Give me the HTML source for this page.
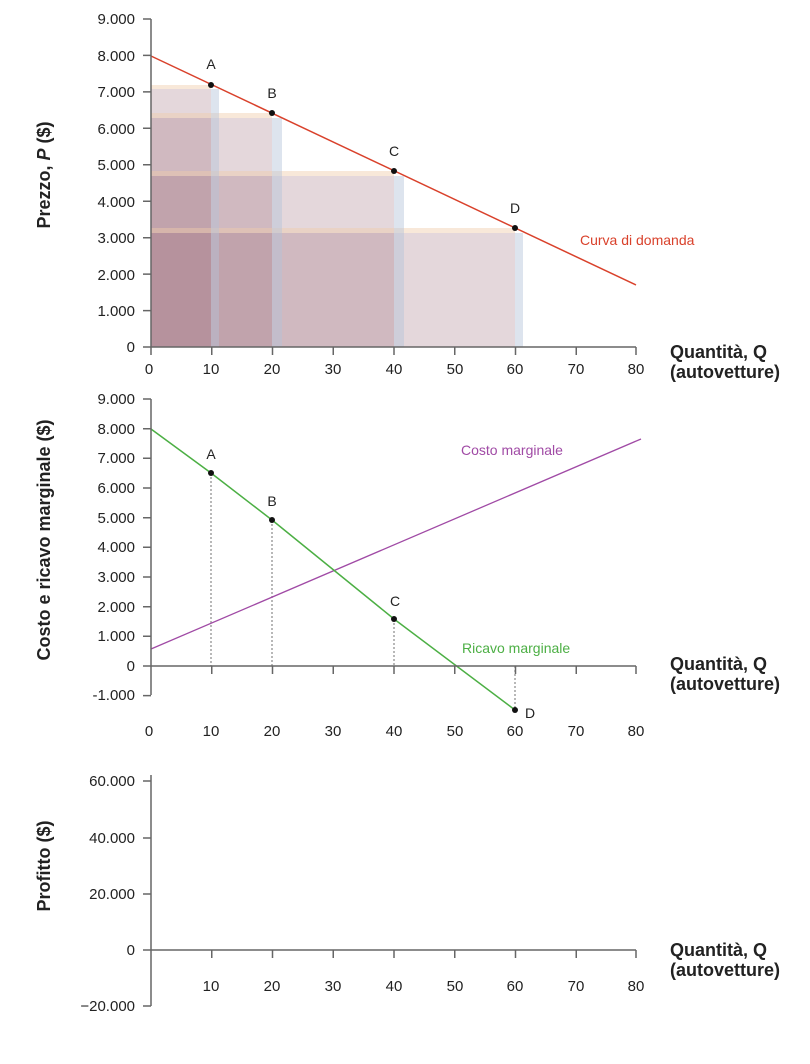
<!DOCTYPE html>
<html><head><meta charset="utf-8"><style>
body{margin:0;background:#fff}
svg text{font-family:"Liberation Sans",sans-serif;fill:#222}
</style></head><body>
<svg width="810" height="1059" viewBox="0 0 810 1059" xmlns="http://www.w3.org/2000/svg">
<g font-size="15">
<!-- TOP CHART -->
<g fill="rgba(150,100,115,0.26)">
<rect x="151" y="89" width="60" height="258"/>
<rect x="151" y="118" width="121" height="229"/>
<rect x="151" y="176" width="243" height="171"/>
<rect x="151" y="233" width="364" height="114"/>
</g>
<g fill="rgba(240,205,170,0.45)">
<rect x="151" y="85" width="60" height="4"/>
<rect x="151" y="113" width="121" height="5"/>
<rect x="151" y="171" width="243" height="5"/>
<rect x="151" y="228" width="364" height="5"/>
</g>
<g fill="rgba(180,195,218,0.45)">
<rect x="211" y="89" width="8" height="258"/>
<rect x="272" y="118" width="10" height="229"/>
<rect x="394" y="176" width="10" height="171"/>
<rect x="515" y="233" width="8" height="114"/>
</g>
<line x1="151" y1="56" x2="636" y2="285" stroke="#d9412b" stroke-width="1.5"/>
<g stroke="#666" stroke-width="1.5" fill="none">
<path d="M151 19 V347 H636"/>
<path d="M143 19H151M143 55.4H151M143 91.9H151M143 128.3H151M143 164.8H151M143 201.2H151M143 237.7H151M143 274.1H151M143 310.6H151M143 347H151"/>
<path d="M151 347v8M211.75 347v8M272.5 347v8M333.25 347v8M394 347v8M454.75 347v8M515.5 347v8M576.25 347v8M636 347v8"/>
</g>
<g text-anchor="end">
<text x="135" y="24">9.000</text><text x="135" y="61">8.000</text><text x="135" y="97">7.000</text><text x="135" y="134">6.000</text><text x="135" y="170">5.000</text><text x="135" y="207">4.000</text><text x="135" y="243">3.000</text><text x="135" y="280">2.000</text><text x="135" y="316">1.000</text><text x="135" y="352">0</text>
</g>
<g text-anchor="middle">
<text x="149" y="374">0</text><text x="211" y="374">10</text><text x="272" y="374">20</text><text x="333" y="374">30</text><text x="394" y="374">40</text><text x="455" y="374">50</text><text x="515" y="374">60</text><text x="576" y="374">70</text><text x="636" y="374">80</text>
</g>
<g fill="#111"><circle cx="211" cy="85" r="3"/><circle cx="272" cy="113" r="3"/><circle cx="394" cy="171" r="3"/><circle cx="515" cy="228" r="3"/></g>
<g font-size="14" text-anchor="middle"><text x="211" y="69">A</text><text x="272" y="98">B</text><text x="394" y="156">C</text><text x="515" y="213">D</text></g>
<text x="580" y="245" font-size="14" style="fill:#d9412b">Curva di domanda</text>
<text transform="translate(50,175) rotate(-90)" text-anchor="middle" font-size="18" font-weight="bold">Prezzo, <tspan font-style="italic">P</tspan> ($)</text>
<text x="670" y="358" font-size="18" font-weight="bold">Quantità, Q</text>
<text x="670" y="378" font-size="18" font-weight="bold">(autovetture)</text>

<!-- MIDDLE CHART -->
<g stroke="#888" stroke-width="1.2" stroke-dasharray="2,2">
<path d="M211 473V666M272 520V666M394 619V666M515 666V710"/>
</g>
<line x1="151" y1="649" x2="641" y2="439" stroke="#a04aa5" stroke-width="1.3"/>
<polyline points="151,429 211,473 272,520 394,619 515,710" fill="none" stroke="#4caf44" stroke-width="1.5"/>
<g stroke="#666" stroke-width="1.5" fill="none">
<path d="M151 399 V695M151 666H636"/>
<path d="M143 399H151M143 428.7H151M143 458.3H151M143 488H151M143 517.7H151M143 547.3H151M143 577H151M143 606.7H151M143 636.3H151M143 666H151M143 695.6H151"/>
<path d="M211.75 666v8M272.5 666v8M333.25 666v8M394 666v8M454.75 666v8M515.5 666v8M576.25 666v8M636 666v8"/>
</g>
<g text-anchor="end">
<text x="135" y="404">9.000</text><text x="135" y="434">8.000</text><text x="135" y="463">7.000</text><text x="135" y="493">6.000</text><text x="135" y="523">5.000</text><text x="135" y="552">4.000</text><text x="135" y="582">3.000</text><text x="135" y="612">2.000</text><text x="135" y="641">1.000</text><text x="135" y="671">0</text><text x="135" y="700">-1.000</text>
</g>
<g text-anchor="middle">
<text x="149" y="736">0</text><text x="211" y="736">10</text><text x="272" y="736">20</text><text x="333" y="736">30</text><text x="394" y="736">40</text><text x="455" y="736">50</text><text x="515" y="736">60</text><text x="576" y="736">70</text><text x="636" y="736">80</text>
</g>
<g fill="#111"><circle cx="211" cy="473" r="3"/><circle cx="272" cy="520" r="3"/><circle cx="394" cy="619" r="3"/><circle cx="515" cy="710" r="3"/></g>
<g font-size="14" text-anchor="middle"><text x="211" y="459">A</text><text x="272" y="506">B</text><text x="395" y="606">C</text><text x="530" y="718">D</text></g>
<text x="461" y="455" font-size="14" style="fill:#a04aa5">Costo marginale</text>
<text x="462" y="653" font-size="14" style="fill:#4caf44">Ricavo marginale</text>
<text transform="translate(50,540) rotate(-90)" text-anchor="middle" font-size="18" font-weight="bold">Costo e ricavo marginale ($)</text>
<text x="670" y="670" font-size="18" font-weight="bold">Quantità, Q</text>
<text x="670" y="690" font-size="18" font-weight="bold">(autovetture)</text>

<!-- BOTTOM CHART -->
<g stroke="#666" stroke-width="1.5" fill="none">
<path d="M151 775 V1006M151 950H636"/>
<path d="M143 781H151M143 838H151M143 894H151M143 950H151M143 1006H151"/>
<path d="M211.75 950v8M272.5 950v8M333.25 950v8M394 950v8M454.75 950v8M515.5 950v8M576.25 950v8M636 950v8"/>
</g>
<g text-anchor="end">
<text x="135" y="786">60.000</text><text x="135" y="843">40.000</text><text x="135" y="899">20.000</text><text x="135" y="955">0</text><text x="135" y="1011">−20.000</text>
</g>
<g text-anchor="middle">
<text x="211" y="991">10</text><text x="272" y="991">20</text><text x="333" y="991">30</text><text x="394" y="991">40</text><text x="455" y="991">50</text><text x="515" y="991">60</text><text x="576" y="991">70</text><text x="636" y="991">80</text>
</g>
<text transform="translate(50,866) rotate(-90)" text-anchor="middle" font-size="18" font-weight="bold">Profitto ($)</text>
<text x="670" y="956" font-size="18" font-weight="bold">Quantità, Q</text>
<text x="670" y="976" font-size="18" font-weight="bold">(autovetture)</text>
</g>
</svg>
</body></html>
